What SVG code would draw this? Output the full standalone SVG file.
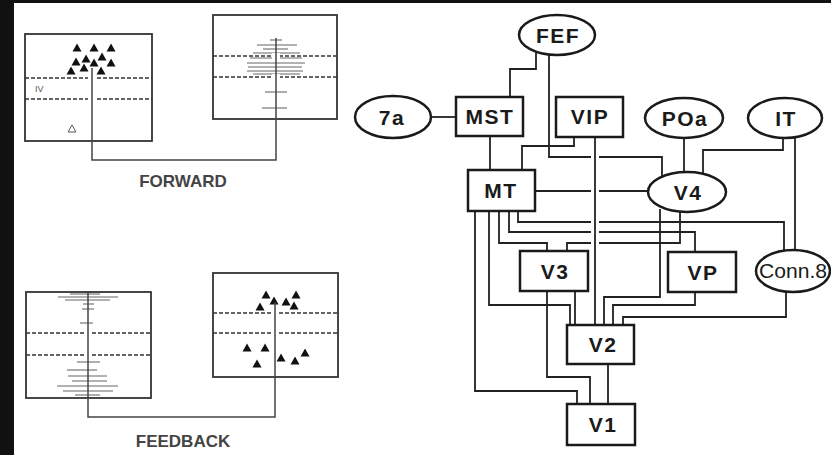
<svg xmlns="http://www.w3.org/2000/svg" xmlns:xlink="http://www.w3.org/1999/xlink" width="831" height="455" viewBox="0 0 831 455">
<style>
.node{fill:#fff;stroke:#1a1a1a;stroke-width:2.5}
.lbl{font-family:"Liberation Sans",Arial,sans-serif;font-weight:bold;font-size:21px;fill:#1a1a1a;text-anchor:middle;letter-spacing:1.5px}
.con{fill:none;stroke:#222;stroke-width:1.8}
.halo{fill:none;stroke:#fff;stroke-width:8}
.box{fill:none;stroke:#333;stroke-width:1.8}
.dash{fill:none;stroke:#333;stroke-width:1.5;stroke-dasharray:4 2}
.bar{stroke:#999;stroke-width:1.6}
.pl{fill:none;stroke:#444;stroke-width:1.5}
.cap{font-family:"Liberation Sans",Arial,sans-serif;font-size:17px;font-weight:bold;fill:#444;text-anchor:middle}
</style>
<defs>
<path id="tri" d="M0,-4.5 L4.5,3.5 L-4.5,3.5 Z" fill="#111"/>
</defs>
<rect width="831" height="455" fill="#fff"/>
<rect x="0" y="0" width="14" height="455" fill="#111"/>
<rect x="0" y="0" width="831" height="3" fill="#111"/>

<!-- FORWARD panel -->
<g id="forward">
<rect class="box" x="25" y="34" width="127" height="107"/>
<line class="dash" x1="25" y1="78" x2="152" y2="78"/>
<line class="dash" x1="25" y1="99" x2="152" y2="99"/>
<text x="35" y="92" font-family="Liberation Sans,Arial,sans-serif" font-size="9" fill="#555">IV</text>
<use xlink:href="#tri" x="77" y="48"/><use xlink:href="#tri" x="94" y="48"/><use xlink:href="#tri" x="111" y="48"/>
<use xlink:href="#tri" x="76" y="62"/><use xlink:href="#tri" x="86" y="59"/><use xlink:href="#tri" x="94" y="63"/>
<use xlink:href="#tri" x="102" y="57"/><use xlink:href="#tri" x="111" y="63"/>
<use xlink:href="#tri" x="71" y="71"/><use xlink:href="#tri" x="84" y="68"/><use xlink:href="#tri" x="101" y="71"/>
<path d="M72,125 L76,132 L68,132 Z" fill="none" stroke="#555" stroke-width="1"/>
<rect class="box" x="213" y="15" width="124" height="104"/>
<line class="dash" x1="213" y1="56" x2="337" y2="56"/>
<line class="dash" x1="213" y1="77" x2="337" y2="77"/>
<g class="bar">
<line x1="270" y1="40" x2="282" y2="40"/>
<line x1="257" y1="45" x2="297" y2="45"/>
<line x1="263" y1="49" x2="288" y2="49"/>
<line x1="253" y1="53" x2="300" y2="53"/>
<line x1="250" y1="58" x2="302" y2="58"/>
<line x1="247" y1="63" x2="305" y2="63"/>
<line x1="248" y1="67" x2="302" y2="67"/>
<line x1="247" y1="71" x2="303" y2="71"/>
<line x1="253" y1="74" x2="300" y2="74"/>
<line x1="265" y1="92" x2="287" y2="92"/>
<line x1="262" y1="108" x2="287" y2="108"/>
</g>
<path class="halo" stroke-width="6" d="M92,75 V81 M92,96 V102 M276,53 V59 M276,74 V80"/>
<path class="pl" d="M92,68 V160 H276 V38"/>
<text class="cap" x="183" y="187">FORWARD</text>
</g>

<!-- FEEDBACK panel -->
<g id="feedback">
<rect class="box" x="26" y="292" width="125" height="106"/>
<line class="dash" x1="26" y1="333" x2="151" y2="333"/>
<line class="dash" x1="26" y1="355" x2="151" y2="355"/>
<g class="bar">
<line x1="70" y1="294" x2="100" y2="294"/>
<line x1="58" y1="297" x2="118" y2="297"/>
<line x1="65" y1="300" x2="110" y2="300"/>
<line x1="83" y1="304" x2="94" y2="304"/>
<line x1="82" y1="309" x2="94" y2="309"/>
<line x1="80" y1="323" x2="93" y2="323"/>
<line x1="77" y1="362" x2="100" y2="362"/>
<line x1="67" y1="370" x2="97" y2="370"/>
<line x1="68" y1="376" x2="107" y2="376"/>
<line x1="72" y1="381" x2="107" y2="381"/>
<line x1="57" y1="386" x2="118" y2="386"/>
<line x1="63" y1="391" x2="113" y2="391"/>
<line x1="75" y1="395" x2="100" y2="395"/>
</g>
<rect class="box" x="213" y="273" width="125" height="104"/>
<line class="dash" x1="213" y1="313" x2="338" y2="313"/>
<line class="dash" x1="213" y1="333" x2="338" y2="333"/>
<use xlink:href="#tri" x="266" y="295"/><use xlink:href="#tri" x="296" y="295"/>
<use xlink:href="#tri" x="260" y="307"/><use xlink:href="#tri" x="274" y="301"/>
<use xlink:href="#tri" x="286" y="302"/><use xlink:href="#tri" x="294" y="306"/>
<use xlink:href="#tri" x="247" y="348"/><use xlink:href="#tri" x="265" y="348"/>
<use xlink:href="#tri" x="257" y="364"/><use xlink:href="#tri" x="281" y="358"/>
<use xlink:href="#tri" x="295" y="361"/><use xlink:href="#tri" x="305" y="353"/>
<path class="halo" stroke-width="6" d="M88,330 V336 M88,352 V358 M275,310 V316 M275,330 V336"/>
<path class="pl" d="M88,292 V417 H275 V302"/>
<text class="cap" x="183" y="447">FEEDBACK</text>
</g>

<!-- connectors -->
<g id="connectors">
<path class="con" d="M431,117 H456"/>
<path class="con" d="M536,53 V69 H510 V97"/>
<path class="con" d="M549,55 V157 H662 V177"/>
<path class="con" d="M574,137 V146 H522 V170"/>
<path class="con" d="M490,136 V170"/>
<path class="con" d="M535,191 H648"/>
<path class="con" d="M684,138 V173"/>
<path class="con" d="M783,138 V150 H703 V177"/>
<path class="con" d="M795,138 V251"/>
<path class="con" d="M475,211 V391 H577 V404"/>
<path class="con" d="M489,211 V305 H570 V325"/>
<path class="con" d="M499,211 V243 H547 V251"/>
<path class="con" d="M509,211 V232 H695 V252"/>
<path class="con" d="M518,211 V222 H784 V251"/>
<path class="con" d="M680,211 V243 H567 V251"/>
<path class="con" d="M660,209 V297 H604 V325"/>
<path class="con" d="M695,292 V305 H613 V325"/>
<path class="con" d="M786,291 V317 H623 V325"/>
<path class="con" d="M547,291 V377 H590 V404"/>
<path class="con" d="M575,291 V325"/>
<path class="con" d="M608,364 V404"/>
<path class="halo" d="M595,150 V300"/>
<path class="con" d="M595,137 V325"/>
</g>

<g id="FEF"><ellipse class="node" cx="557" cy="35" rx="38" ry="20"/><text class="lbl" x="558" y="43">FEF</text></g>
<g id="7a"><ellipse class="node" cx="393" cy="117" rx="38" ry="21"/><text class="lbl" x="392" y="125">7a</text></g>
<g id="MST"><rect class="node" x="456" y="97" width="67" height="39"/><text class="lbl" x="490" y="124">MST</text></g>
<g id="VIP"><rect class="node" x="556" y="97" width="67" height="40"/><text class="lbl" x="590" y="124">VIP</text></g>
<g id="POa"><ellipse class="node" cx="684" cy="118" rx="39" ry="20"/><text class="lbl" x="685" y="126">POa</text></g>
<g id="IT"><ellipse class="node" cx="785" cy="118" rx="37" ry="20"/><text class="lbl" x="786" y="126">IT</text></g>
<g id="MT"><rect class="node" x="468" y="170" width="67" height="41"/><text class="lbl" x="501" y="198">MT</text></g>
<g id="V4"><ellipse class="node" cx="687" cy="192" rx="39" ry="20"/><text class="lbl" x="688" y="200" letter-spacing="4">V4</text></g>
<g id="V3"><rect class="node" x="520" y="251" width="68" height="40"/><text class="lbl" x="555" y="279" letter-spacing="4">V3</text></g>
<g id="VP"><rect class="node" x="668" y="252" width="68" height="40"/><text class="lbl" x="703" y="280" letter-spacing="3">VP</text></g>
<g id="Conn8"><ellipse class="node" cx="793" cy="271" rx="37" ry="21"/><text x="793" y="278" font-family="Liberation Sans,Arial,sans-serif" font-size="20" fill="#1a1a1a" text-anchor="middle" textLength="68" lengthAdjust="spacingAndGlyphs">Conn.8</text></g>
<g id="V2"><rect class="node" x="567" y="325" width="67" height="39"/><text class="lbl" x="603" y="352" letter-spacing="4">V2</text></g>
<g id="V1"><rect class="node" x="567" y="404" width="68" height="41"/><text class="lbl" x="603" y="432" letter-spacing="4">V1</text></g>
</svg>
